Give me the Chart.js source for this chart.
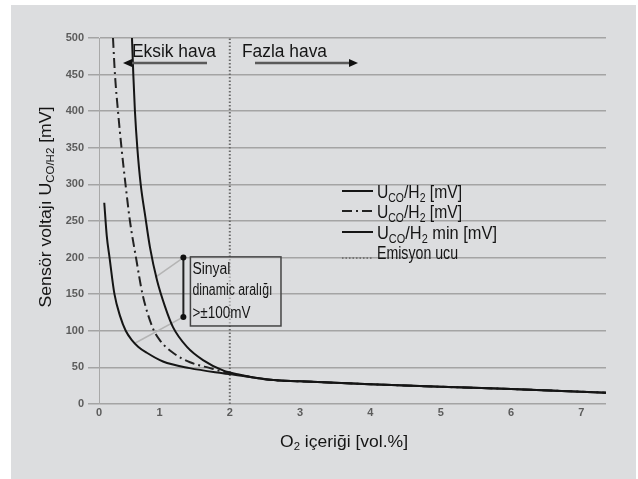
<!DOCTYPE html>
<html><head><meta charset="utf-8">
<script src="https://cdn.jsdelivr.net/npm/chart.js@4"></script>
<style>html,body{margin:0;padding:0;background:#fff}canvas{display:block}</style>
</head><body>
<canvas id="c" width="638" height="479"></canvas>
<script>
// ---- data ----
const xTicks = [0, 1, 2, 3, 4, 5, 6, 7];
const upperX = [0.609, 0.628, 0.651, 0.685, 0.733, 0.80, 0.865, 0.965, 1.079, 1.192, 1.391, 1.619, 1.903, 2.145, 2.572, 3.0, 4.0, 5.0, 6.0, 7.35];
const upperY = [500, 450, 400, 350, 300, 255, 214, 169, 133, 105, 78, 60, 46, 40, 33, 31, 27, 23.5, 20.5, 15.5];
const midX = [0.339, 0.367, 0.41, 0.46, 0.517, 0.58, 0.666, 0.759, 0.90, 1.007, 1.192, 1.434, 1.72, 2.0, 2.287, 2.572, 3.0, 4.0, 5.0, 6.0, 7.35];
const midY = [500, 450, 400, 350, 300, 250, 200, 150, 105, 87, 70, 57, 49, 42, 37, 33, 31, 27, 23.5, 20.5, 15.5];
const minX = [0.215, 0.25, 0.29, 0.36, 0.44, 0.52, 0.61, 0.70, 0.82, 1.05, 1.43, 1.90, 2.29, 2.572, 3.0, 4.0, 5.0, 6.0, 7.35];
const minY = [275, 230, 200, 150, 120, 100, 87, 78, 70, 58, 49, 42, 37, 33, 31, 27, 23.5, 20.5, 15.5];
const emissionX = [2, 2];
const emissionY = [0, 500];

const legendLabels = [
  [['U',''],['CO','sub'],['/H',''],['2','sub'],[' [mV]','']],
  [['U',''],['CO','sub'],['/H',''],['2','sub'],[' [mV]','']],
  [['U',''],['CO','sub'],['/H',''],['2','sub'],[' min [mV]','']],
  [['Emisyon ucu','']]
];
const yTitle = [['Sensör voltajı U',''],['CO/H2','sub'],[' [mV]','']];
const xTitle = [['O',''],['2','sub'],[' içeriği [vol.%]','']];
const boxLines = ['Sinyal', 'dinamic aralığı', '>±100mV'];

// ---- helpers ----
const FONT = "'Liberation Sans', Arial, sans-serif";
const toPts = (xs, ys) => xs.map((x, i) => ({x, y: ys[i]}));

function drawRich(ctx, parts, x, y, o) {
  o = o || {};
  const size = o.size || 16, sub = o.sub || Math.round(size * 0.65);
  ctx.save();
  let w = 0;
  const ms = parts.map(p => {
    ctx.font = (p[1] === 'sub' ? sub : size) + 'px ' + FONT;
    const m = ctx.measureText(p[0]).width; w += m; return m;
  });
  const sx = o.width ? o.width / w : 1;
  ctx.translate(x, y);
  if (o.rot) ctx.rotate(o.rot);
  ctx.scale(sx, 1);
  let cx = o.align === 'center' ? -w / 2 : (o.align === 'right' ? -w : 0);
  ctx.fillStyle = o.color || '#151515';
  ctx.textBaseline = 'alphabetic'; ctx.textAlign = 'left';
  parts.forEach((p, i) => {
    ctx.font = (p[1] === 'sub' ? sub : size) + 'px ' + FONT;
    ctx.fillText(p[0], cx, p[1] === 'sub' ? size * 0.2 : 0);
    cx += ms[i];
  });
  ctx.restore();
}

function arrow(ctx, x1, y, x2) {
  ctx.save();
  ctx.strokeStyle = '#5a5a5a'; ctx.lineWidth = 2.5;
  const dir = Math.sign(x2 - x1);
  ctx.beginPath(); ctx.moveTo(x1, y); ctx.lineTo(x2 - dir * 6, y); ctx.stroke();
  ctx.fillStyle = '#111';
  ctx.beginPath(); ctx.moveTo(x2, y); ctx.lineTo(x2 - dir * 9, y - 4); ctx.lineTo(x2 - dir * 9, y + 4); ctx.closePath(); ctx.fill();
  ctx.restore();
}

const bgPlugin = {
  id: 'bg',
  beforeDraw(chart) {
    const ctx = chart.ctx; ctx.save();
    ctx.fillStyle = '#ffffff'; ctx.fillRect(0, 0, chart.width, chart.height);
    ctx.fillStyle = 'rgb(220,221,223)'; ctx.fillRect(11, 5, 625, 474);
    ctx.restore();
  },
  beforeDatasetsDraw(chart) {
    const ctx = chart.ctx, xs = chart.scales.x, ys = chart.scales.y;
    const X = v => xs.getPixelForValue(v), Y = v => ys.getPixelForValue(v);
    ctx.save();
    ctx.strokeStyle = '#b4b4b4'; ctx.lineWidth = 1.5;
    ctx.beginPath(); ctx.moveTo(X(1.34), Y(200)); ctx.lineTo(X(0.94), Y(173)); ctx.stroke();
    ctx.beginPath(); ctx.moveTo(X(1.34), Y(119)); ctx.lineTo(X(0.65), Y(83)); ctx.stroke();
    ctx.restore();
  },
  afterDatasetsDraw(chart) {
    const ctx = chart.ctx, xs = chart.scales.x, ys = chart.scales.y;
    const X = v => xs.getPixelForValue(v), Y = v => ys.getPixelForValue(v);
    // bracket
    ctx.save();
    ctx.strokeStyle = '#222'; ctx.lineWidth = 2;
    const bx = X(1.34), by1 = Y(200), by2 = Y(119);
    ctx.beginPath(); ctx.moveTo(bx, by1); ctx.lineTo(bx, by2); ctx.stroke();
    ctx.fillStyle = '#111';
    [by1, by2].forEach(yy => { ctx.beginPath(); ctx.arc(bx, yy, 3, 0, Math.PI * 2); ctx.fill(); });
    // box
    const l = X(1.44), r = X(2.728), t = Y(201), b = Y(106.6);
    ctx.fillStyle = 'rgba(220,221,223,0.55)';
    ctx.fillRect(l, t, r - l, b - t);
    ctx.strokeStyle = '#444'; ctx.lineWidth = 1.5;
    ctx.strokeRect(l, t, r - l, b - t);
    ctx.restore();
    drawRich(ctx, [[boxLines[0], '']], l + 2, t + 17, {size: 16, width: 38});
    drawRich(ctx, [[boxLines[1], '']], l + 2, t + 38, {size: 16, width: 80});
    drawRich(ctx, [[boxLines[2], '']], l + 2, t + 61, {size: 16, width: 58});
    // region labels & arrows
    drawRich(ctx, [['Eksik hava', '']], 132, 57, {size: 17.5, width: 84});
    drawRich(ctx, [['Fazla hava', '']], 242, 57, {size: 17.5, width: 85});
    arrow(ctx, 207, 63, 123);
    arrow(ctx, 255, 63, 358);
  },
  afterDraw(chart) {
    const ctx = chart.ctx;
    // axis titles
    drawRich(ctx, yTitle, 51, 207, {size: 17, sub: 11, rot: -Math.PI / 2, align: 'center', width: 201});
    drawRich(ctx, xTitle, 344, 447, {size: 17, sub: 11, align: 'center', width: 128});
    // legend
    const rows = [198, 218, 239, 259];
    const lineY = [191, 211, 232, 258];
    const widths = [85, 85, 120, 81];
    ctx.save();
    ctx.lineWidth = 2;
    const styles = [
      {c: '#151515', d: []},
      {c: '#222', d: [10, 4, 2, 4]},
      {c: '#151515', d: []},
      {c: '#777', d: [1.5, 2]}
    ];
    styles.forEach((s, i) => {
      ctx.strokeStyle = s.c; ctx.setLineDash(s.d);
      ctx.beginPath(); ctx.moveTo(342, lineY[i]); ctx.lineTo(373, lineY[i]); ctx.stroke();
    });
    ctx.restore();
    legendLabels.forEach((parts, i) => drawRich(ctx, parts, 377, rows[i], {size: 18, sub: 12, width: widths[i]}));
  }
};

const tickFont = {family: FONT, size: 11, weight: 'bold'};

new Chart(document.getElementById('c'), {
  type: 'scatter',
  data: {
    datasets: [
      {data: toPts(upperX, upperY), borderColor: '#151515', borderWidth: 2},
      {data: toPts(midX, midY), borderColor: '#222', borderWidth: 2, borderDash: [10, 4, 2, 4]},
      {data: toPts(minX, minY), borderColor: '#151515', borderWidth: 2},
      {data: toPts(emissionX, emissionY), borderColor: '#6a6a6a', borderWidth: 2, borderDash: [1.5, 2], cubicInterpolationMode: 'default', tension: 0}
    ].map(d => Object.assign({showLine: true, pointRadius: 0, cubicInterpolationMode: 'monotone', fill: false}, d))
  },
  plugins: [bgPlugin],
  options: {
    responsive: false,
    devicePixelRatio: 1,
    animation: false,
    events: [],
    layout: {padding: {left: 0, top: 38, right: 32, bottom: 0}},
    plugins: {legend: {display: false}, tooltip: {enabled: false}},
    scales: {
      x: {
        type: 'linear', min: 0.14, max: 7.35,
        afterBuildTicks: s => { s.ticks = xTicks.map(v => ({value: v === 0 ? s.min : v})); },
        afterFit: s => { s.height = 75; },
        grid: {display: false, drawTicks: false, tickLength: 0},
        border: {display: false},
        ticks: {font: tickFont, color: '#5c5c5c', padding: 2, maxRotation: 0, autoSkip: false,
                callback: v => String(Math.round(v))}
      },
      y: {
        min: 0, max: 500,
        afterFit: s => { s.width = 99; },
        grid: {color: '#a4a4a4', lineWidth: 1.5, drawTicks: true, tickLength: 11, tickColor: '#a4a4a4'},
        border: {display: true, color: '#a8a8a8', width: 1},
        ticks: {stepSize: 50, font: tickFont, color: '#5c5c5c', padding: 4}
      }
    }
  }
});
</script>
</body></html>
